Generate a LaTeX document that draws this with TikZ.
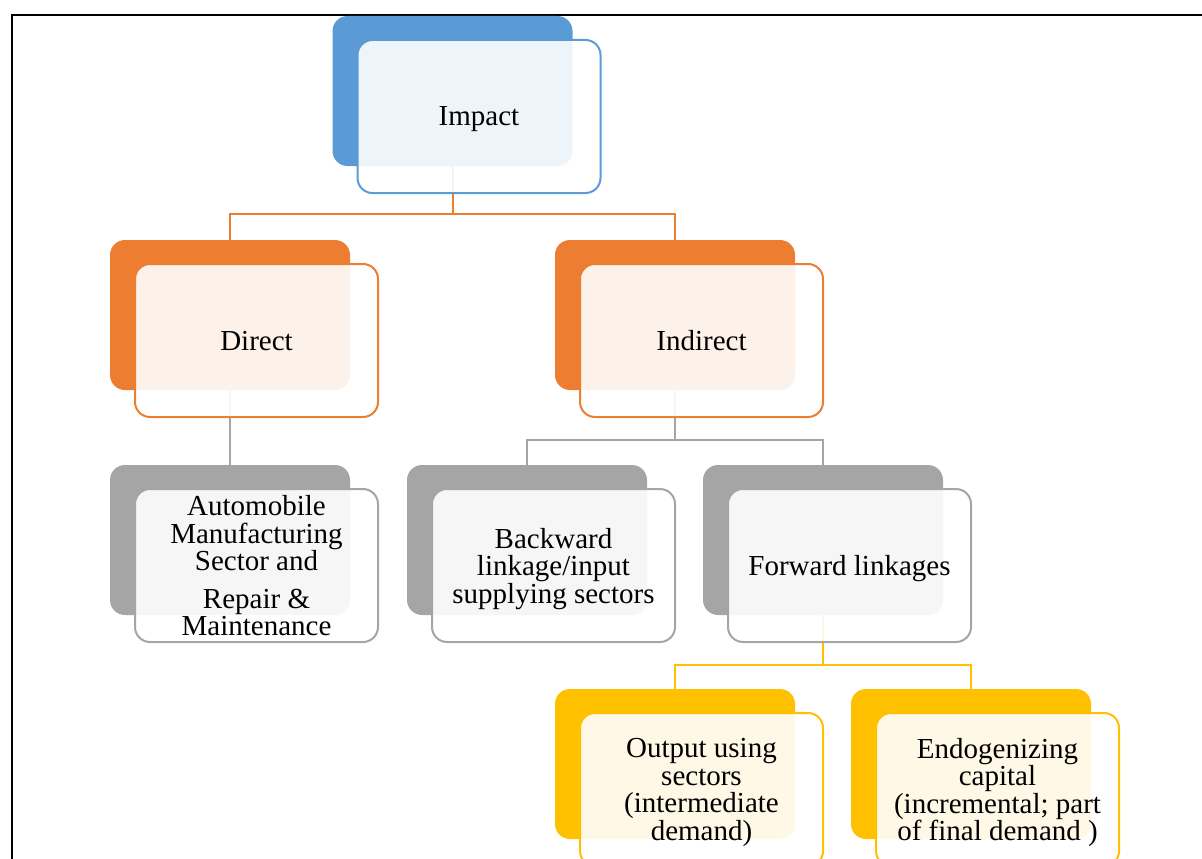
\documentclass[tikz,border=0pt]{standalone}
\usepackage{fontspec}
\setmainfont{Liberation Serif}
\usetikzlibrary{calc}
\definecolor{cblue}{HTML}{5B9BD5}
\definecolor{corange}{HTML}{ED7D31}
\definecolor{cgray}{HTML}{A5A5A5}
\definecolor{cgold}{HTML}{FFC000}
\begin{document}
\begin{tikzpicture}[x=1pt,y=-1pt,
  backbox/.style={rounded corners=15pt, minimum width=240pt, minimum height=150pt,
    inner sep=0pt, outer sep=0pt, draw=none},
  frontbox/.style={rounded corners=15pt, minimum width=243pt, minimum height=153pt,
    inner sep=0pt, outer sep=0pt, fill=white, fill opacity=0.9, text opacity=1,
    line width=2pt, align=center, text depth=0pt, font=\fontsize{29}{27.5}\selectfont},
  conn/.style={line width=2pt}]
\useasboundingbox (0,0) rectangle (1202,859);
\clip (0,0) rectangle (1202,859);

% page frame
\draw[line width=2pt] (12,880) -- (12,15) -- (1220,15);

% coloured back panels
\node[backbox, fill=cblue]   (impB) at (452.5,91) {};
\node[backbox, fill=corange] (dirB) at (230,315) {};
\node[backbox, fill=corange] (indB) at (675,315) {};
\node[backbox, fill=cgray]   (autB) at (230,540) {};
\node[backbox, fill=cgray]   (bwdB) at (527,540) {};
\node[backbox, fill=cgray]   (fwdB) at (823,540) {};
\node[backbox, fill=cgold]   (outB) at (675,764) {};
\node[backbox, fill=cgold]   (endB) at (971,764) {};

% connectors
\draw[conn, draw=corange] (impB.south) -- ++(0,48) -| (dirB.north);
\draw[conn, draw=corange] (impB.south) -- ++(0,48) -| (indB.north);
\draw[conn, draw=cgray] (dirB.south) -- (autB.north);
\draw[conn, draw=cgray] (indB.south) -- ++(0,50) -| (bwdB.north);
\draw[conn, draw=cgray] (indB.south) -- ++(0,50) -| (fwdB.north);
\draw[conn, draw=cgold] (fwdB.south) -- ++(0,50) -| (outB.north);
\draw[conn, draw=cgold] (fwdB.south) -- ++(0,50) -| (endB.north);

% translucent front cards with text
\node[frontbox, draw=cblue]   (imp) at ($(impB.center)+(26.5,25.5)$) {Impact};
\node[frontbox, draw=corange] (dir) at ($(dirB.center)+(26.5,25.5)$) {Direct};
\node[frontbox, draw=corange] (ind) at ($(indB.center)+(26.5,25.5)$) {Indirect};
\node[frontbox, draw=cgray]   (aut) at ($(autB.center)+(26.5,25.5)$)
  {Automobile\\Manufacturing\\Sector and\\[10pt]Repair \&\\Maintenance};
\node[frontbox, draw=cgray]   (bwd) at ($(bwdB.center)+(26.5,25.5)$)
  {Backward\\linkage/input\\supplying sectors};
\node[frontbox, draw=cgray]   (fwd) at ($(fwdB.center)+(26.5,25.5)$) {Forward linkages};
\node[frontbox, draw=cgold]   (out) at ($(outB.center)+(26.5,25.5)$)
  {Output using\\sectors\\(intermediate\\demand)};
\node[frontbox, draw=cgold]   (end) at ($(endB.center)+(26.5,25.5)$)
  {Endogenizing\\capital\\(incremental; part\\of final demand )};
\end{tikzpicture}
\end{document}
